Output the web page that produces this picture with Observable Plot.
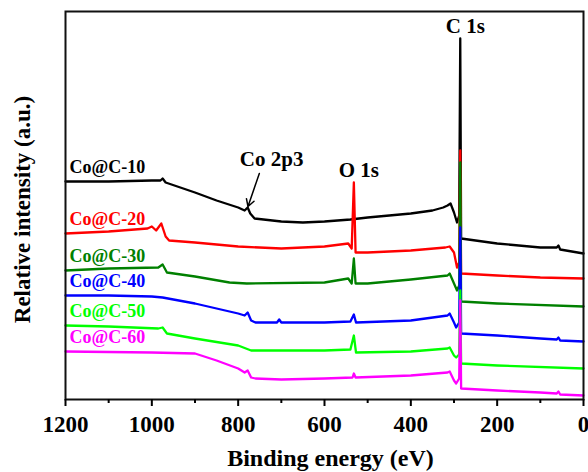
<!DOCTYPE html>
<html>
<head>
<meta charset="utf-8">
<script src="https://cdn.jsdelivr.net/npm/d3@7"></script>
<script src="https://cdn.jsdelivr.net/npm/@observablehq/plot@0.6"></script>
<style>
  html, body { margin: 0; padding: 0; background: #fff; }
</style>
</head>
<body>
<div id="chart"></div>
<script>
// ---- Data ----
const seriesNames  = ["Co@C-10", "Co@C-20", "Co@C-30", "Co@C-40", "Co@C-50", "Co@C-60"];
const seriesColors = ["#000000", "#ff0000", "#008000", "#0000ff", "#00ff00", "#ff00ff"];

const energy10    = [1200, 1100, 1000, 980, 975, 968, 900, 850, 800, 785, 778, 772, 762, 700, 650, 600, 540, 500, 400, 350, 325, 315, 308, 300, 293, 288, 285.5, 283.5, 200, 100, 62, 58, 54, 0];
const intensity10 = [ 218,  218,  219, 219, 221, 217, 207, 199, 192, 189, 192, 186, 181, 178, 177, 178, 180, 182, 186, 189, 192, 194, 196, 187, 177, 184,   361,   161, 156, 152, 152, 154, 150, 146];

const energy20    = [1200, 1100, 1010, 1000, 990, 978, 968, 960, 900, 800, 700, 600, 545, 537, 532, 528, 500, 400, 320, 310, 300, 293, 288, 285.5, 283.5, 200, 100, 0];
const intensity20 = [ 166,  168,  171,  173, 169, 176, 163, 159, 157, 153, 151, 153, 156, 151, 217, 147, 147, 149, 152, 153, 147, 132, 137,   249,   126, 124, 122, 121];

const energy30    = [1200, 1100, 985, 975, 965, 900, 820, 780, 600, 545, 537, 532, 528, 500, 400, 315, 310, 300, 293, 288, 285.5, 283.5, 200, 0];
const intensity30 = [ 129,  131, 132, 135, 127, 123, 117, 116, 117, 121, 116, 141, 116, 116, 120, 124, 126, 116, 109, 114,   237,    98,  96, 93];

const energy40    = [1200, 1100, 1000, 975, 900, 800, 785, 778, 770, 760, 710, 705, 700, 600, 540, 532, 527, 400, 315, 310, 300, 295, 288, 285.5, 283.5, 200, 100, 62, 58, 54, 0];
const intensity40 = [ 104,  104,  103, 102,  96,  86,  84,  87,  79,  77,  77,  80,  77,  77,  78,  85,  77,  79,  84,  86,  77,  72,  77,   172,    66,  64,  61, 60, 62, 59, 58];

const energy50    = [1200, 1100, 985, 975, 965, 900, 800, 770, 600, 540, 532, 527, 400, 315, 310, 300, 295, 288, 285.5, 283.5, 200, 0];
const intensity50 = [  74,   73,  71,  72,  66,  61,  54,  49,  49,  50,  64,  47,  48,  51,  52,  44,  42,  45,   109,    36,  34, 31];

const energy60    = [1200, 1000, 900, 850, 800, 785, 778, 770, 760, 700, 600, 535, 532, 528, 400, 315, 310, 300, 295, 288, 285.5, 283.5, 200, 100, 62, 58, 54, 0];
const intensity60 = [  48,   47,  46,  39,  31,  27,  29,  22,  21,  20,  21,  22,  26,  22,  24,  27,  28,  19,  16,  21,    99,    11,   9,   7,  6,  8,  5,  4];

const xMajorTicks = [1200, 1000, 800, 600, 400, 200, 0];
const xMinorTicks = [1100, 900, 700, 500, 300, 100];

// peak annotations: label, series index it sits on, energy of the peak
const peakLabels   = ["C 1s", "O 1s"];
const peakSeries   = [0, 1];
const peakEnergies = [285.5, 532];
const coLabel = "Co 2p3";
const coEnergy = 778;   // on Co@C-10

// ---- Build tables ----
const energies = [energy10, energy20, energy30, energy40, energy50, energy60];
const intensities = [intensity10, intensity20, intensity30, intensity40, intensity50, intensity60];
const rows = [];
seriesNames.forEach((name, i) => {
  energies[i].forEach((e, j) => rows.push({name, E: e, I: intensities[i][j]}));
});
const firstPoints = seriesNames.map((name, i) => ({name, E: energies[i][0], I: intensities[i][0]}));
const valueAt = (i, e) => intensities[i][energies[i].indexOf(e)];
const peaks = peakLabels.map((t, k) => ({t, E: peakEnergies[k], I: valueAt(peakSeries[k], peakEnergies[k])}));
const coPoint = {t: coLabel, E: coEnergy, I: valueAt(0, coEnergy)};

const font = "'Liberation Serif', 'Times New Roman', serif";

const chart = Plot.plot({
  width: 588,
  height: 472,
  marginLeft: 65,
  marginRight: 5,
  marginTop: 11,
  marginBottom: 73,
  style: {fontFamily: font, fontWeight: "bold", background: "#fff", color: "#000"},
  x: {domain: [1200, 0], label: null},
  y: {domain: [0, 388], axis: null, label: null},
  color: {domain: seriesNames, range: seriesColors},
  marks: [
    Plot.line(rows, {x: "E", y: "I", z: "name", stroke: "name", strokeWidth: 2.3, curve: "linear"}),
    Plot.frame({stroke: "#111", strokeWidth: 2}),
    Plot.axisX(xMajorTicks, {tickSize: 7, tickPadding: 9, strokeWidth: 2, fontSize: 23, fontWeight: "bold", label: null, tickFormat: d => String(d)}),
    Plot.axisX(xMinorTicks, {tickSize: 4, strokeWidth: 2, label: null, tickFormat: () => ""}),
    Plot.text(["Binding energy (eV)"], {frameAnchor: "bottom", textAnchor: "middle", dy: 66, dx: 6, lineAnchor: "bottom", fontSize: 24, fontWeight: "bold", fill: "#000"}),
    Plot.text(["Relative intensity (a.u.)"], {frameAnchor: "left", textAnchor: "middle", rotate: -90, dx: -52, dy: 4, lineAnchor: "top", fontSize: 23, fontWeight: "bold", fill: "#000"}),
    Plot.text(firstPoints, {x: "E", y: "I", text: "name", fill: "name", textAnchor: "start", dx: 4, dy: -14, fontSize: 18, fontWeight: "bold"}),
    Plot.text(peaks, {x: "E", y: "I", text: "t", lineAnchor: "bottom", dx: 5, dy: -6, fontSize: 21, fontWeight: "bold", fill: "#000"}),
    Plot.text([coPoint], {x: "E", y: "I", text: "t", lineAnchor: "bottom", dx: 24, dy: -42, fontSize: 21, fontWeight: "bold", fill: "#000"}),
    Plot.arrow([coPoint], {x1: d => d.E - 27, y1: d => d.I + 34, x2: "E", y2: "I", stroke: "#000", strokeWidth: 1.5, headLength: 8, insetEnd: 1})
  ]
});
document.getElementById("chart").append(chart);
</script>
</body>
</html>
